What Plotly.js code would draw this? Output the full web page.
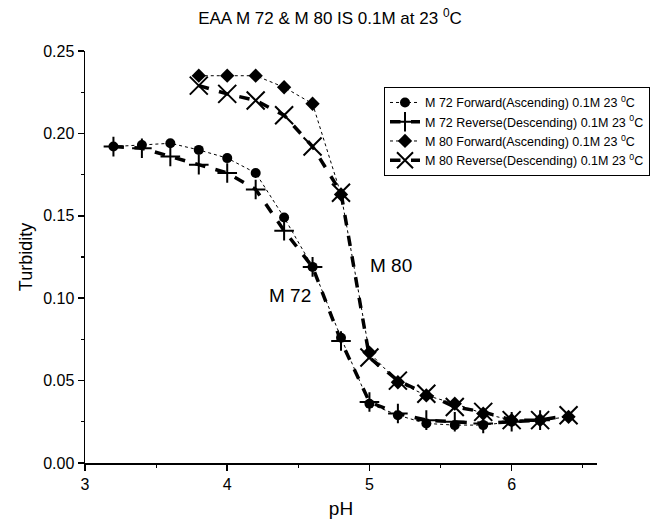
<!DOCTYPE html>
<html>
<head>
<meta charset="utf-8">
<script src="https://cdn.plot.ly/plotly-3.0.1.min.js"></script>
<style>html,body{margin:0;padding:0;background:#fff;}#chart{width:660px;height:526px;}</style>
</head>
<body>
<div id="chart"></div>
<script>
// ---- data ----
const phM72 = [3.2, 3.4, 3.6, 3.8, 4.0, 4.2, 4.4, 4.6, 4.8, 5.0, 5.2, 5.4, 5.6, 5.8, 6.0, 6.2];
const m72Forward = [0.192, 0.193, 0.194, 0.190, 0.185, 0.176, 0.149, 0.119, 0.076, 0.036, 0.029, 0.024, 0.023, 0.023, 0.025, 0.026];
const m72Reverse = [0.192, 0.191, 0.186, 0.181, 0.176, 0.166, 0.141, 0.119, 0.074, 0.037, 0.030, 0.026, 0.025, 0.024, 0.025, 0.026];
const phM80 = [3.8, 4.0, 4.2, 4.4, 4.6, 4.8, 5.0, 5.2, 5.4, 5.6, 5.8, 6.0, 6.2, 6.4];
const m80Forward = [0.235, 0.235, 0.235, 0.228, 0.218, 0.163, 0.067, 0.049, 0.041, 0.036, 0.030, 0.026, 0.026, 0.028];
const m80Reverse = [0.229, 0.224, 0.220, 0.211, 0.192, 0.164, 0.064, 0.050, 0.042, 0.034, 0.031, 0.026, 0.026, 0.029];
const seriesNames = [
  "M 72 Forward(Ascending) 0.1M 23 <sup>0</sup>C",
  "M 72 Reverse(Descending) 0.1M 23 <sup>0</sup>C",
  "M 80 Forward(Ascending) 0.1M 23 <sup>0</sup>C",
  "M 80 Reverse(Descending) 0.1M 23 <sup>0</sup>C"
];
const xTicks = [3, 4, 5, 6];
const yTicks = [0, 0.05, 0.10, 0.15, 0.20, 0.25];
const curveLabels = ["M 80", "M 72"];
const curveLabelX = [5.15, 4.44];
const curveLabelY = [0.120, 0.1015];

const FONT = "Arial, 'Liberation Sans', sans-serif";
const traces = [
  {x: phM72, y: m72Forward, name: seriesNames[0], mode: "lines+markers",
   line: {color: "#000", width: 1, dash: "dot"},
   marker: {symbol: "circle", size: 10, color: "#000"}},
  {x: phM72, y: m72Reverse, name: seriesNames[1], mode: "lines+markers",
   line: {color: "#000", width: 3.5, dash: "dash"},
   marker: {symbol: "cross-thin-open", size: 14, color: "#000", line: {color: "#000", width: 2}}},
  {x: phM80, y: m80Forward, name: seriesNames[2], mode: "lines+markers",
   line: {color: "#000", width: 1, dash: "dot"},
   marker: {symbol: "diamond", size: 11, color: "#000"}},
  {x: phM80, y: m80Reverse, name: seriesNames[3], mode: "lines+markers",
   line: {color: "#000", width: 3.5, dash: "dash"},
   marker: {symbol: "x-thin-open", size: 18, color: "#000", line: {color: "#000", width: 2}}}
];

const layout = {
  width: 660, height: 526,
  margin: {l: 85, r: 63, t: 51, b: 63, autoexpand: false},
  paper_bgcolor: "#fff", plot_bgcolor: "#fff",
  font: {family: FONT, color: "#000", size: 16},
  title: {text: "EAA M 72 &amp; M 80 IS 0.1M at 23 <sup>0</sup>C", font: {family: FONT, size: 17, color: "#000"},
          x: 0.5, xref: "container", y: 0.965, yref: "container", yanchor: "middle"},
  showlegend: true,
  legend: {x: 0.584, y: 0.913, xanchor: "left", yanchor: "top", bordercolor: "#000", borderwidth: 1,
           bgcolor: "#fff", font: {family: FONT, size: 12.5, color: "#000"}, itemwidth: 30, tracegroupgap: 0},
  xaxis: {range: [3, 6.6], tickvals: xTicks, ticktext: xTicks.map(String), showgrid: false, zeroline: false,
          showline: true, linecolor: "#000", linewidth: 1.5, ticks: "outside", ticklen: 6, tickwidth: 1.5, tickcolor: "#000",
          tickfont: {size: 16}, automargin: false,
          minor: {dtick: 0.5, tick0: 3, ticks: "outside", ticklen: 3, tickwidth: 1.2, tickcolor: "#000", showgrid: false},
          title: {text: "pH", font: {size: 19}, standoff: 10}},
  yaxis: {range: [0, 0.25], tickvals: yTicks, ticktext: yTicks.map(v => v.toFixed(2)), showgrid: false, zeroline: false,
          showline: true, linecolor: "#000", linewidth: 1.5, ticks: "outside", ticklen: 6, tickwidth: 1.5, tickcolor: "#000",
          tickfont: {size: 16}, automargin: false,
          minor: {dtick: 0.025, tick0: 0, ticks: "outside", ticklen: 3, tickwidth: 1.2, tickcolor: "#000", showgrid: false},
          title: {text: "Turbidity", font: {size: 18}, standoff: 6}},
  annotations: curveLabels.map((t, i) => ({text: t, x: curveLabelX[i], y: curveLabelY[i], xref: "x", yref: "y",
          showarrow: false, font: {family: FONT, size: 19, color: "#000"}}))
};

Plotly.newPlot("chart", traces, layout, {displayModeBar: false, staticPlot: true});
</script>
</body>
</html>
